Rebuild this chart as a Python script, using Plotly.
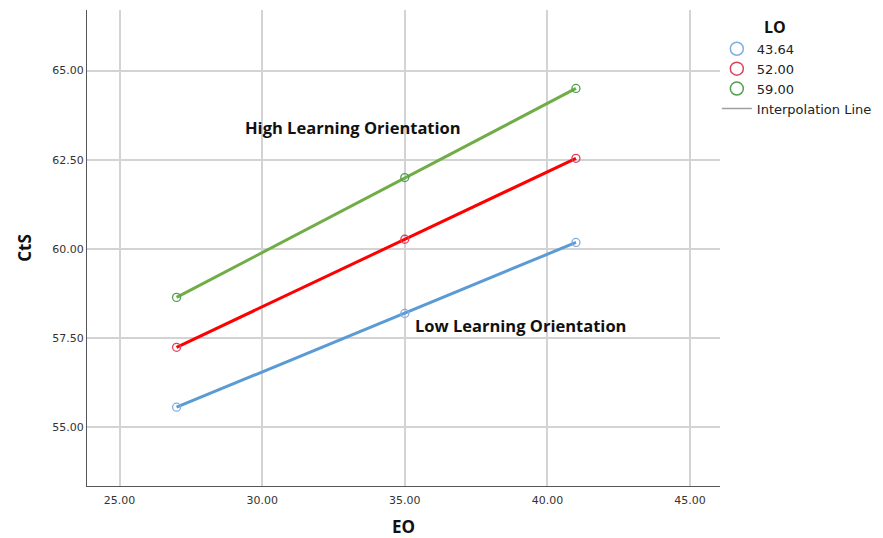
import plotly.graph_objects as go

# Predictor levels (EO) and moderator levels (LO)
eo_levels = [27, 35, 41]
lo_labels = ["43.64", "52.00", "59.00"]

# Predicted CtS for each LO level at each EO level
cts_low = [55.56, 58.19, 60.18]
cts_mid = [57.24, 60.27, 62.54]
cts_high = [58.64, 62.00, 64.50]

series = [cts_low, cts_mid, cts_high]
line_colors = ["#5B9BD5", "#FF0000", "#70AD47"]
marker_colors = ["#7FAEE3", "#E0405E", "#4EA04E"]

fig = go.Figure()

# Interpolation lines
for vals, lc in zip(series, line_colors):
    fig.add_trace(go.Scatter(
        x=eo_levels, y=vals, mode="lines",
        line=dict(color=lc, width=3),
        showlegend=False, hoverinfo="skip",
    ))

# Observed points (open circles)
for vals, mc, name in zip(series, marker_colors, lo_labels):
    fig.add_trace(go.Scatter(
        x=eo_levels, y=vals, mode="markers", name=name, legendgroup=name,
        marker=dict(symbol="circle-open", size=8, color=mc, line=dict(width=1.3)),
        showlegend=False,
    ))

# Legend keys with larger symbols
for mc, name in zip(marker_colors, lo_labels):
    fig.add_trace(go.Scatter(
        x=[None], y=[None], mode="markers", name=name, legendgroup=name,
        marker=dict(symbol="circle-open", size=13, color=mc, line=dict(width=1.5)),
    ))

fig.add_trace(go.Scatter(
    x=[None], y=[None], mode="lines", name="Interpolation Line",
    line=dict(color="#A0A0A0", width=1.5),
))

fig.add_annotation(x=33.18, y=63.4, text="<b>High Learning Orientation</b>",
                   showarrow=False, font=dict(family="Open Sans", size=16.5, color="#111"))
fig.add_annotation(x=39.07, y=57.86, text="<b>Low Learning Orientation</b>",
                   showarrow=False, font=dict(family="Open Sans", size=16.5, color="#111"))

# Legend heading
fig.add_annotation(xref="paper", yref="paper", x=1.087, y=0.964, xanchor="center", yanchor="middle",
                   text="<b>LO</b>", showarrow=False,
                   font=dict(family="Open Sans", size=16, color="#111"))

axis_common = dict(
    showgrid=True, gridcolor="#D3D3D3", gridwidth=1.5,
    showline=True, linecolor="#555", linewidth=1,
    zeroline=False, ticks="", mirror=False,
    tickfont=dict(family="DejaVu Sans", size=11, color="#333"),
    tickformat=".2f",
)

fig.update_layout(
    width=883, height=538,
    margin=dict(l=87, r=163, t=10, b=52, autoexpand=False),
    paper_bgcolor="white", plot_bgcolor="white",
    xaxis=dict(range=[23.86, 46.05], tickvals=[25, 30, 35, 40, 45], ticklabelstandoff=4,
               title=dict(text="<b>EO</b>", font=dict(family="Open Sans", size=17, color="#111"), standoff=26),
               **axis_common),
    yaxis=dict(range=[53.35, 66.7], tickvals=[55, 57.5, 60, 62.5, 65],
               title=dict(text="<b>CtS</b>", font=dict(family="Open Sans", size=17, color="#111"), standoff=16),
               **axis_common),
    legend=dict(
        x=0.995, y=0.95, xanchor="left", yanchor="top",
        font=dict(family="DejaVu Sans", size=13, color="#222"),
        tracegroupgap=0, itemwidth=30,
        bgcolor="rgba(0,0,0,0)",
    ),
)

fig.write_html("out.html")
